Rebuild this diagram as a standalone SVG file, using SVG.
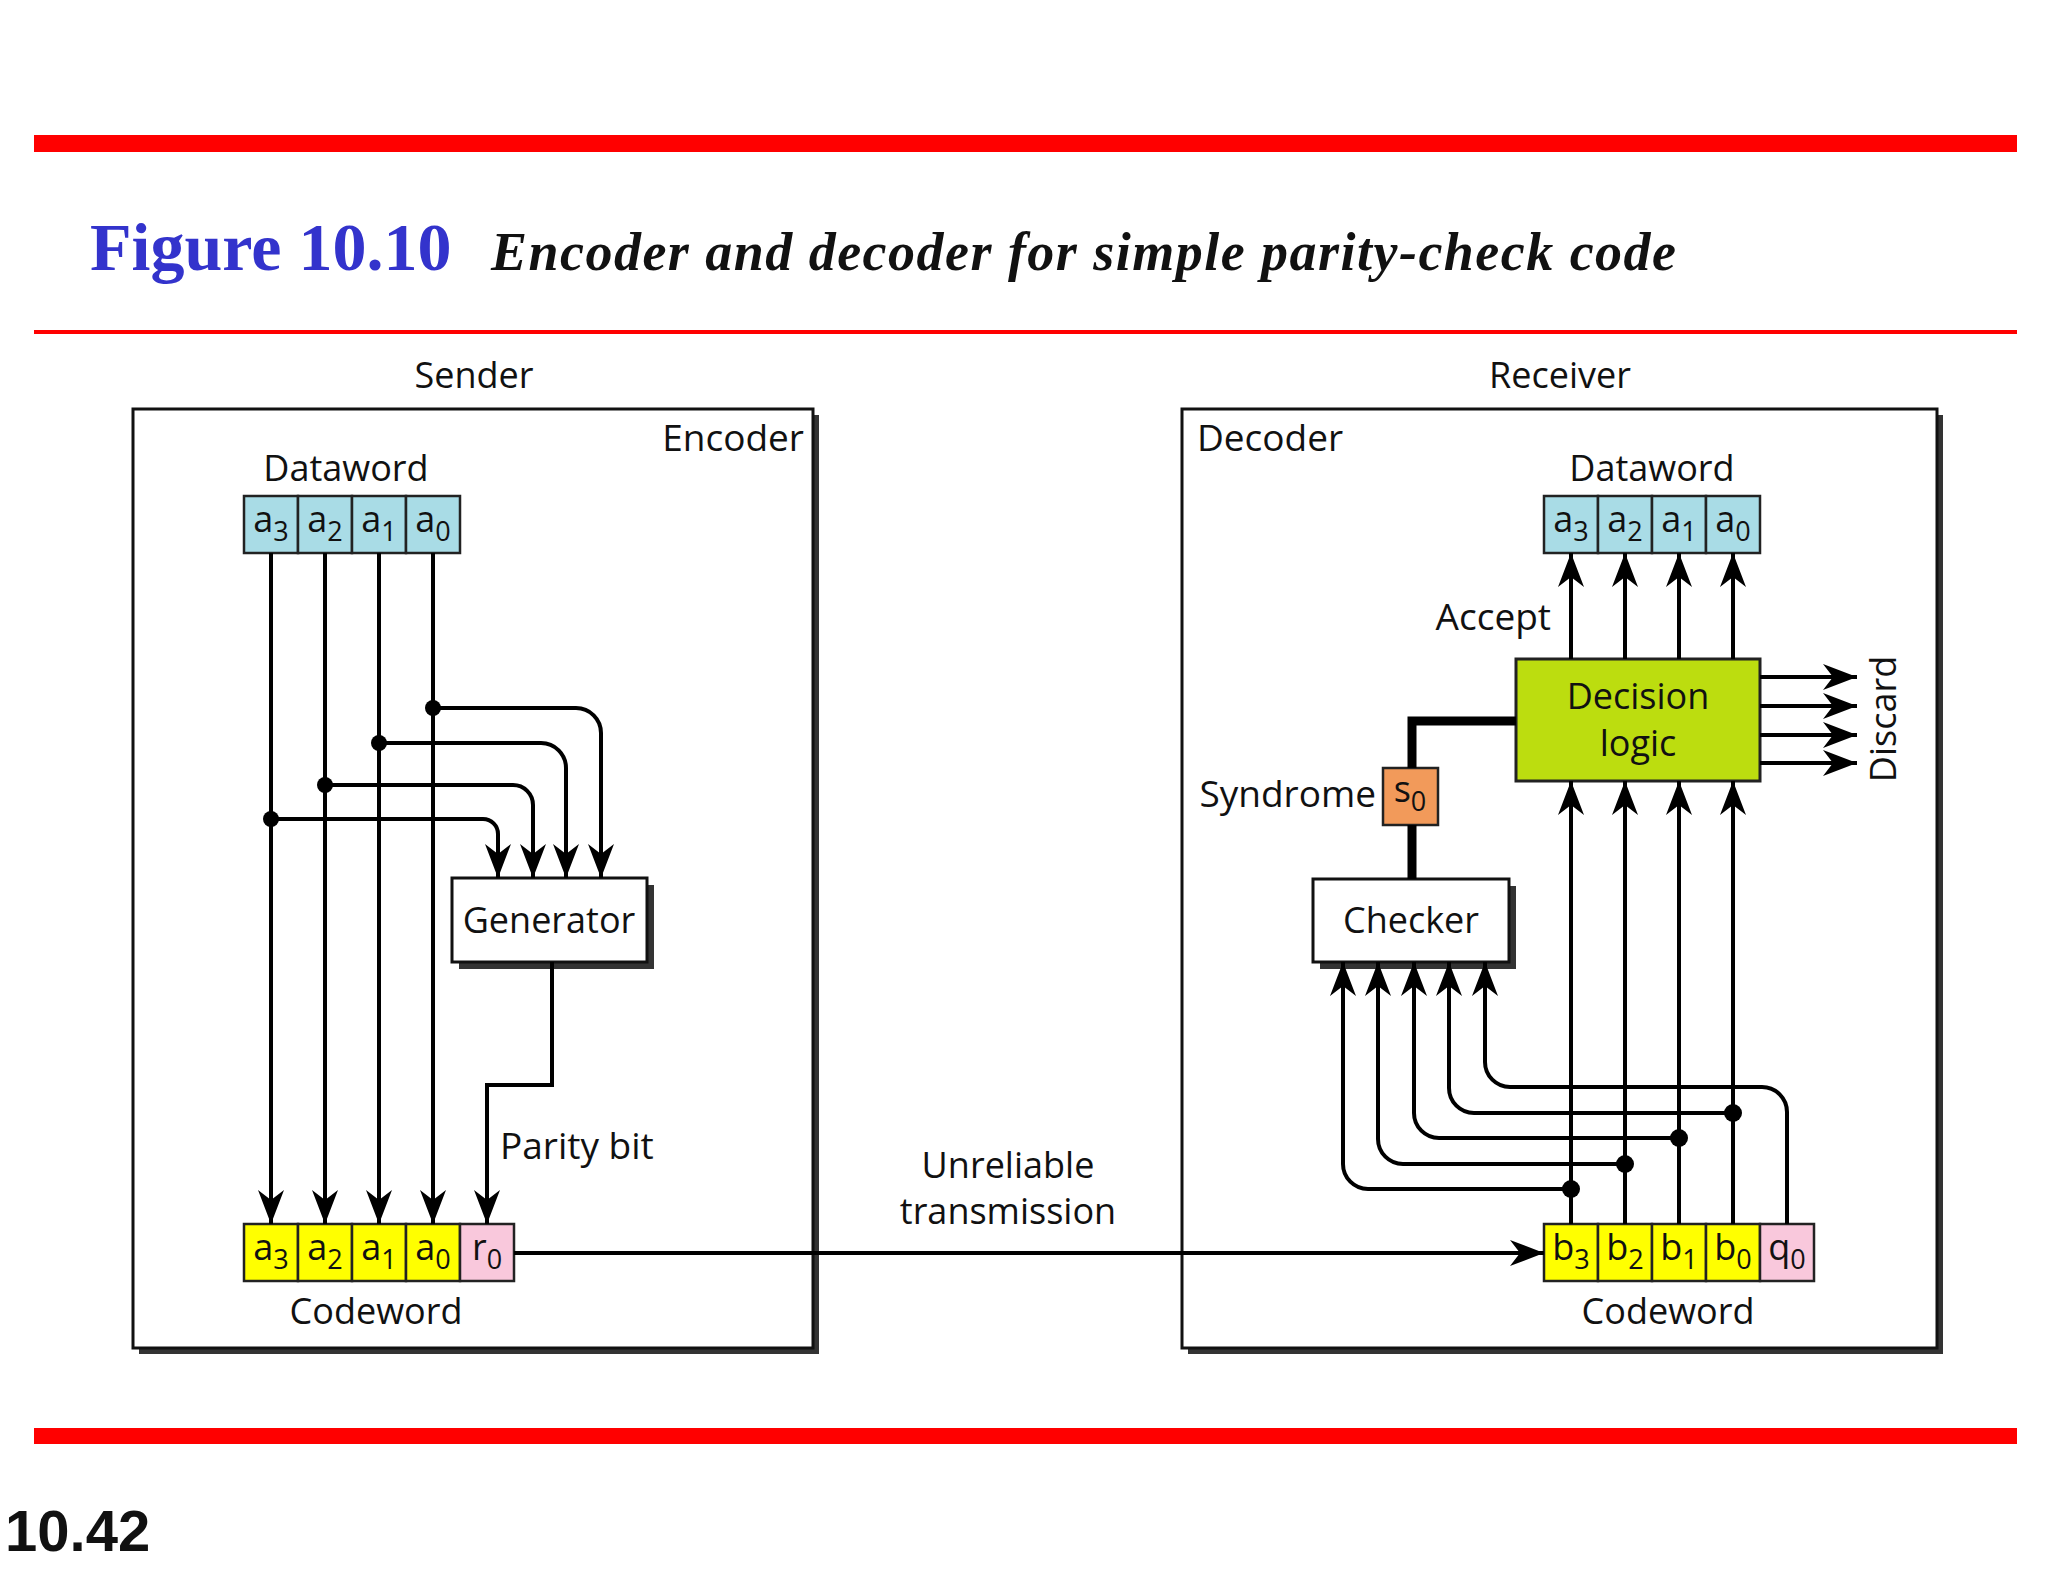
<svg xmlns="http://www.w3.org/2000/svg" width="2048" height="1582" viewBox="0 0 2048 1582">
<style>
.t{font-family:"Open Sans","Noto Sans",sans-serif;font-size:37px;fill:#111}
.c{font-family:"Open Sans","Noto Sans",sans-serif;font-size:36px;fill:#111;text-anchor:middle}
.s{font-size:27px}
.box{fill:#fff;stroke:#111;stroke-width:3}
.sh{fill:#333}
.cell{stroke:#222;stroke-width:2.5}
.w{fill:none;stroke:#000;stroke-width:4}
</style>
<defs>
<marker id="ah" markerUnits="userSpaceOnUse" markerWidth="36" markerHeight="26" refX="34" refY="13" orient="auto">
<path d="M0,0 L34,13 L0,26 L10,13 z" fill="#000"/>
</marker>
</defs>
<rect width="2048" height="1582" fill="#fff"/>
<g id="header">
<rect x="34" y="135" width="1983" height="17" fill="#f00"/>
<rect x="34" y="330" width="1983" height="4" fill="#f00"/>
<rect x="34" y="1428" width="1983" height="16" fill="#f00"/>
<text x="90" y="270" font-family="Liberation Serif,serif" font-weight="bold" font-size="68" fill="#3333cc">Figure 10.10</text>
<text x="491" y="270" font-family="Liberation Serif,serif" font-weight="bold" font-style="italic" font-size="54" fill="#111" textLength="1185">Encoder and decoder for simple parity-check code</text>
<text x="5" y="1551" font-family="Liberation Sans,sans-serif" font-weight="bold" font-size="58" fill="#111">10.42</text>
</g>
<g id="encoder">
<rect class="sh" x="139" y="415" width="680" height="939"/>
<rect class="box" x="133" y="409" width="680" height="939"/>
<text class="c" x="474" y="388">Sender</text>
<text class="t" x="804" y="451" text-anchor="end">Encoder</text>
</g>
<g id="sender-dataword">
<text class="c" x="346" y="481">Dataword</text>
<rect class="cell" x="244" y="496" width="54" height="57" fill="#a9dce6"/>
<rect class="cell" x="298" y="496" width="54" height="57" fill="#a9dce6"/>
<rect class="cell" x="352" y="496" width="54" height="57" fill="#a9dce6"/>
<rect class="cell" x="406" y="496" width="54" height="57" fill="#a9dce6"/>
<text class="c" x="271" y="532">a<tspan class="s" dy="9">3</tspan></text>
<text class="c" x="325" y="532">a<tspan class="s" dy="9">2</tspan></text>
<text class="c" x="379" y="532">a<tspan class="s" dy="9">1</tspan></text>
<text class="c" x="433" y="532">a<tspan class="s" dy="9">0</tspan></text>
</g>
<g id="generator">
<rect class="sh" x="459" y="885" width="195" height="84"/>
<rect class="box" x="452" y="878" width="195" height="84"/>
<text class="c" x="549" y="933">Generator</text>
</g>
<g id="sender-codeword">
<rect class="cell" x="244" y="1224" width="54" height="57" fill="#ffff00"/>
<rect class="cell" x="298" y="1224" width="54" height="57" fill="#ffff00"/>
<rect class="cell" x="352" y="1224" width="54" height="57" fill="#ffff00"/>
<rect class="cell" x="406" y="1224" width="54" height="57" fill="#ffff00"/>
<rect class="cell" x="460" y="1224" width="54" height="57" fill="#f9c8dc"/>
<text class="c" x="271" y="1260">a<tspan class="s" dy="9">3</tspan></text>
<text class="c" x="325" y="1260">a<tspan class="s" dy="9">2</tspan></text>
<text class="c" x="379" y="1260">a<tspan class="s" dy="9">1</tspan></text>
<text class="c" x="433" y="1260">a<tspan class="s" dy="9">0</tspan></text>
<text class="c" x="487" y="1260">r<tspan class="s" dy="9">0</tspan></text>
<text class="c" x="376" y="1324">Codeword</text>
</g>
<g id="decoder">
<rect class="sh" x="1188" y="415" width="755" height="939"/>
<rect class="box" x="1182" y="409" width="755" height="939"/>
<text class="c" x="1560" y="388">Receiver</text>
<text class="t" x="1197" y="451">Decoder</text>
</g>
<g id="receiver-dataword">
<text class="c" x="1652" y="481">Dataword</text>
<rect class="cell" x="1544" y="496" width="54" height="57" fill="#a9dce6"/>
<rect class="cell" x="1598" y="496" width="54" height="57" fill="#a9dce6"/>
<rect class="cell" x="1652" y="496" width="54" height="57" fill="#a9dce6"/>
<rect class="cell" x="1706" y="496" width="54" height="57" fill="#a9dce6"/>
<text class="c" x="1571" y="532">a<tspan class="s" dy="9">3</tspan></text>
<text class="c" x="1625" y="532">a<tspan class="s" dy="9">2</tspan></text>
<text class="c" x="1679" y="532">a<tspan class="s" dy="9">1</tspan></text>
<text class="c" x="1733" y="532">a<tspan class="s" dy="9">0</tspan></text>
</g>
<g id="decision">
<rect x="1516" y="659" width="244" height="122" fill="#bcdd0f" stroke="#222" stroke-width="3"/>
<text class="c" x="1638" y="709">Decision</text>
<text class="c" x="1638" y="756">logic</text>
</g>
<g id="syndrome">
<rect x="1383" y="768" width="55" height="57" fill="#f29a5a" stroke="#222" stroke-width="2.5"/>
<text class="c" x="1410" y="802">s<tspan class="s" dy="9">0</tspan></text>
<text class="t" x="1376" y="807" text-anchor="end">Syndrome</text>
</g>
<g id="checker">
<rect class="sh" x="1320" y="886" width="196" height="83"/>
<rect class="box" x="1313" y="879" width="196" height="83"/>
<text class="c" x="1411" y="933">Checker</text>
</g>
<g id="receiver-codeword">
<rect class="cell" x="1544" y="1224" width="54" height="57" fill="#ffff00"/>
<rect class="cell" x="1598" y="1224" width="54" height="57" fill="#ffff00"/>
<rect class="cell" x="1652" y="1224" width="54" height="57" fill="#ffff00"/>
<rect class="cell" x="1706" y="1224" width="54" height="57" fill="#ffff00"/>
<rect class="cell" x="1760" y="1224" width="54" height="57" fill="#f9c8dc"/>
<text class="c" x="1571" y="1260">b<tspan class="s" dy="9">3</tspan></text>
<text class="c" x="1625" y="1260">b<tspan class="s" dy="9">2</tspan></text>
<text class="c" x="1679" y="1260">b<tspan class="s" dy="9">1</tspan></text>
<text class="c" x="1733" y="1260">b<tspan class="s" dy="9">0</tspan></text>
<text class="c" x="1787" y="1260">q<tspan class="s" dy="9">0</tspan></text>
<text class="c" x="1668" y="1324">Codeword</text>
</g>
<g id="connectors">
<path class="w" marker-end="url(#ah)" d="M271,553 V1224"/>
<path class="w" marker-end="url(#ah)" d="M325,553 V1224"/>
<path class="w" marker-end="url(#ah)" d="M379,553 V1224"/>
<path class="w" marker-end="url(#ah)" d="M433,553 V1224"/>
<path class="w" marker-end="url(#ah)" d="M433,708 H576 A25,25 0 0 1 601,733 V878"/>
<path class="w" marker-end="url(#ah)" d="M379,743 H541 A25,25 0 0 1 566,768 V878"/>
<path class="w" marker-end="url(#ah)" d="M325,785 H513 A20,20 0 0 1 533,805 V878"/>
<path class="w" marker-end="url(#ah)" d="M271,819 H483 A15,15 0 0 1 498,834 V878"/>
<circle cx="433" cy="708" r="8"/><circle cx="379" cy="743" r="8"/><circle cx="325" cy="785" r="8"/><circle cx="271" cy="819" r="8"/>
<path class="w" marker-end="url(#ah)" d="M552,962 V1085 H487 V1224"/>
<text class="t" x="500" y="1159">Parity bit</text>
<path class="w" marker-end="url(#ah)" d="M514,1253 H1544"/>
<text class="c" x="1008" y="1178">Unreliable</text>
<text class="c" x="1008" y="1224">transmission</text>
<path class="w" marker-end="url(#ah)" d="M1571,659 V553"/>
<path class="w" marker-end="url(#ah)" d="M1625,659 V553"/>
<path class="w" marker-end="url(#ah)" d="M1679,659 V553"/>
<path class="w" marker-end="url(#ah)" d="M1733,659 V553"/>
<text class="t" x="1551" y="630" text-anchor="end">Accept</text>
<path class="w" marker-end="url(#ah)" d="M1760,677 H1857"/>
<path class="w" marker-end="url(#ah)" d="M1760,706 H1857"/>
<path class="w" marker-end="url(#ah)" d="M1760,735 H1857"/>
<path class="w" marker-end="url(#ah)" d="M1760,763 H1857"/>
<text class="c" transform="translate(1896,719) rotate(-90)">Discard</text>
<path fill="none" stroke="#000" stroke-width="9" d="M1516,721 H1412 V768 M1412,825 V879"/>
<path class="w" marker-end="url(#ah)" d="M1571,1224 V781"/>
<path class="w" marker-end="url(#ah)" d="M1625,1224 V781"/>
<path class="w" marker-end="url(#ah)" d="M1679,1224 V781"/>
<path class="w" marker-end="url(#ah)" d="M1733,1224 V781"/>
<path class="w" marker-end="url(#ah)" d="M1571,1189 H1368 A25,25 0 0 1 1343,1164 V962"/>
<path class="w" marker-end="url(#ah)" d="M1625,1164 H1403 A25,25 0 0 1 1378,1139 V962"/>
<path class="w" marker-end="url(#ah)" d="M1679,1138 H1439 A25,25 0 0 1 1414,1113 V962"/>
<path class="w" marker-end="url(#ah)" d="M1733,1113 H1474 A25,25 0 0 1 1449,1088 V962"/>
<path class="w" marker-end="url(#ah)" d="M1787,1224 V1112 A25,25 0 0 0 1762,1087 H1510 A25,25 0 0 1 1485,1062 V962"/>
<circle cx="1571" cy="1189" r="9"/><circle cx="1625" cy="1164" r="9"/><circle cx="1679" cy="1138" r="9"/><circle cx="1733" cy="1113" r="9"/>
</g>
</svg>
